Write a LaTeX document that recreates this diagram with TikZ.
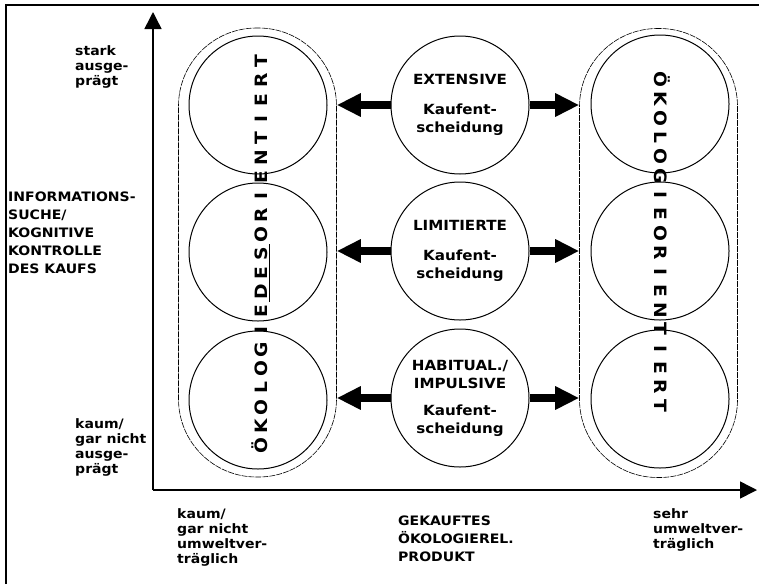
\documentclass[tikz,border=0pt]{standalone}
\usepackage{fontspec}
\setmainfont{DejaVu Sans}[FakeStretch=1.08]
\newfontfamily\spacedfont{DejaVu Sans}[FakeStretch=1.1]
\usetikzlibrary{arrows.meta}

\makeatletter
\newcommand\spreadword[1]{\@tfor\sw@letter:=#1\do{\makebox[19.2pt]{\sw@letter}}}
\makeatother

\tikzset{
  ring/.style={draw, line width=1pt, circle, minimum size=138pt, inner sep=0pt},
  stage/.style={ring, align=center, font=\bfseries\fontsize{14}{18}\selectfont},
  capsule/.style={draw, line width=0.6pt, dash pattern=on 6pt off 1pt, rounded corners=78pt,
    minimum width=158pt, minimum height=449pt, inner sep=0pt},
  spaced/.style={inner sep=0pt, font=\spacedfont\bfseries\fontsize{17}{17}\selectfont},
  fat/.style={line width=8pt, -{Triangle[length=24pt,width=22pt]}},
  axisline/.style={line width=1.5pt, -{Triangle[length=17pt,width=17pt]}},
  lowlabel/.style={anchor=north west, inner sep=0pt, align=left, font=\bfseries\fontsize{13}{15}\selectfont},
  caplabel/.style={anchor=north west, inner sep=0pt, align=left, font=\bfseries\fontsize{13}{18}\selectfont},
}

\begin{document}
\begin{tikzpicture}[x=1pt, y=-1pt]
\useasboundingbox (0,0) rectangle (759,584);

\draw[line width=1.2pt] (6,584) -- (6,5) -- (759,5);

\coordinate (origin) at (153,490);
\draw[axisline] (origin) -- (153,12);
\draw[axisline] (origin) -- (757,490);

\begin{scope}
  \node[capsule] (desor) at (257.5,252.5) {};
  \foreach \y/\n in {105/a, 252/b, 400/c}
    \node[ring] (l\n) at (258,\y) {};
  \node[spaced, rotate=90] (desortext) at (261,253.5)
    {\spreadword{ÖKOLOGIE}\underline{\spreadword{DES}}\spreadword{ORIENTIERT}};
\end{scope}

\begin{scope}
  \node[capsule] (orient) at (658.5,253) {};
  \foreach \y/\n in {104/a, 251/b, 399/c}
    \node[ring] (r\n) at (660,\y) {};
  \node[spaced, rotate=-90] (orienttext) at (662,243) {\spreadword{ÖKOLOGIEORIENTIERT}};
\end{scope}

\begin{scope}
  \node[stage] (ext) at (460,105) {EXTENSIVE\\[12pt]Kaufent-\\scheidung};
  \node[stage] (lim) at (460,251) {LIMITIERTE\\[12pt]Kaufent-\\scheidung};
  \node[stage] (hab) at (460,398) {HABITUAL./\\IMPULSIVE\\[9pt]Kaufent-\\scheidung};
  \foreach \m in {ext, lim, hab} {
    \draw[fat] (\m) -- (\m -| desor.east);
    \draw[fat] (\m) -- (\m -| orient.west);
  }
\end{scope}

\node[lowlabel] (ystark) at (75,45) {stark\\ausge-\\prägt};
\node[caplabel] (yname) at (8,192) {INFORMATIONS-\\SUCHE/\\KOGNITIVE\\KONTROLLE\\DES KAUFS};
\node[lowlabel] (ykaum) at (75,418) {kaum/\\gar nicht\\ausge-\\prägt};
\node[lowlabel] (xkaum) at (177,508) {kaum/\\gar nicht\\umweltver-\\träglich};
\node[caplabel] (xname) at (398,516) {GEKAUFTES\\ÖKOLOGIEREL.\\PRODUKT};
\node[lowlabel] (xsehr) at (653,508) {sehr\\umweltver-\\träglich};

\end{tikzpicture}
\end{document}
